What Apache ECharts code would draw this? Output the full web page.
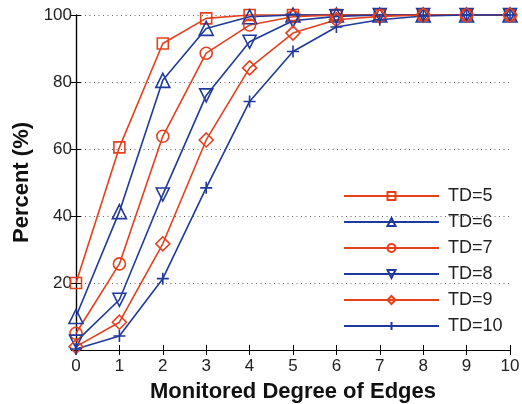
<!DOCTYPE html>
<html>
<head>
<meta charset="utf-8">
<script src="https://cdn.jsdelivr.net/npm/echarts@6/dist/echarts.min.js"></script>
<style>
  html, body { margin: 0; padding: 0; background: #fff; }
  #chart { width: 522px; height: 404px; }
</style>
</head>
<body>
<div id="chart"></div>
<script>
// monitored degree of edges (x) and percent per TD
var degrees = [0, 1, 2, 3, 4, 5, 6, 7, 8, 9, 10];
var td5  = [20, 60.5, 91.5, 99, 100, 100, 100, 100, 100, 100, 100];
var td6  = [10, 41.3, 80.5, 96, 99.5, 100, 100, 100, 100, 100, 100];
var td7  = [5, 25.7, 63.8, 88.6, 97, 99.5, 100, 100, 100, 100, 100];
var td8  = [2.5, 15, 46.4, 76, 92, 98.3, 99.6, 100, 100, 100, 100];
var td9  = [1, 8.3, 31.7, 62.7, 84.2, 94.6, 98.6, 99.6, 100, 100, 100];
var td10 = [0.3, 4.2, 21.3, 48.4, 74.2, 89.1, 96.4, 98.6, 99.7, 100, 100];
var names = ['TD=5', 'TD=6', 'TD=7', 'TD=8', 'TD=9', 'TD=10'];

var RED = '#E5401C';
var BLUE = '#1F3A9C';
var FONT = 'Liberation Sans';

var downTri = 'path://M0,0L2,0L1,1.8Z';
var plus = 'path://M1,0L1,2M0,1L2,1';

function mk(name, vals, color, symbol, size) {
  return {
    name: name,
    type: 'line',
    data: degrees.map(function (d, i) { return [d, vals[i]]; }),
    symbol: symbol,
    symbolSize: size,
    clip: false,
    lineStyle: { color: color, width: 1.6 },
    itemStyle: { color: 'rgba(0,0,0,0)', borderColor: color, borderWidth: 1.6 },
    emphasis: { disabled: true }
  };
}

var chart = echarts.init(document.getElementById('chart'));
chart.setOption({
  animation: false,
  backgroundColor: '#fff',
  grid: { left: 76, right: 12, top: 15, bottom: 54, outerBoundsMode: 'none', containLabel: false },
  legend: {
    left: 343, top: 187, orient: 'vertical', padding: 0,
    itemWidth: 95, itemHeight: 10, itemGap: 8,
    textStyle: { fontFamily: FONT, fontSize: 18, lineHeight: 18, color: '#222', padding: [0, 0, 0, 4] },
    data: names
  },
  xAxis: [{
    type: 'value', min: 0, max: 10, interval: 1,
    name: 'Monitored Degree of Edges', nameLocation: 'middle', nameGap: 31,
    nameTextStyle: { fontFamily: FONT, fontSize: 22, fontWeight: 'bold', color: '#111' },
    axisLine: { lineStyle: { color: '#000', width: 1.2 } },
    axisTick: { inside: true, length: 5, lineStyle: { color: '#000' } },
    axisLabel: { fontFamily: FONT, fontSize: 17, color: '#222', margin: 8 },
    splitLine: { show: false }
  }, {
    type: 'value', min: 0, max: 10, interval: 1, position: 'top',
    axisLine: { lineStyle: { color: '#000', width: 1.2 } },
    axisTick: { inside: true, length: 5, lineStyle: { color: '#000' } },
    axisLabel: { show: false }, splitLine: { show: false }
  }],
  yAxis: [{
    type: 'value', min: 0, max: 100, interval: 20,
    name: 'Percent (%)', nameLocation: 'middle', nameGap: 41,
    nameTextStyle: { fontFamily: FONT, fontSize: 22, fontWeight: 'bold', color: '#111' },
    axisLine: { show: true, lineStyle: { color: '#000', width: 1.2 } },
    axisTick: { show: true, inside: true, length: 5, lineStyle: { color: '#000' } },
    axisLabel: {
      fontFamily: FONT, fontSize: 17, color: '#222', margin: 4,
      formatter: function (v) { return v === 0 ? '' : v; }
    },
    splitLine: { show: true, lineStyle: { color: '#666', type: [1, 3.5], width: 1 } }
  }, {
    type: 'value', min: 0, max: 100, interval: 20, position: 'right',
    axisLine: { show: true, lineStyle: { color: '#000', width: 1.2 } },
    axisTick: { show: true, inside: true, length: 5, lineStyle: { color: '#000' } },
    axisLabel: { show: false }, splitLine: { show: false }
  }],
  series: [
    mk('TD=5', td5, RED, 'rect', 11),
    mk('TD=6', td6, BLUE, 'triangle', 14),
    mk('TD=7', td7, RED, 'circle', 12),
    mk('TD=8', td8, BLUE, downTri, 13),
    mk('TD=9', td9, RED, 'diamond', 14),
    mk('TD=10', td10, BLUE, plus, 12)
  ]
});
</script>
</body>
</html>
